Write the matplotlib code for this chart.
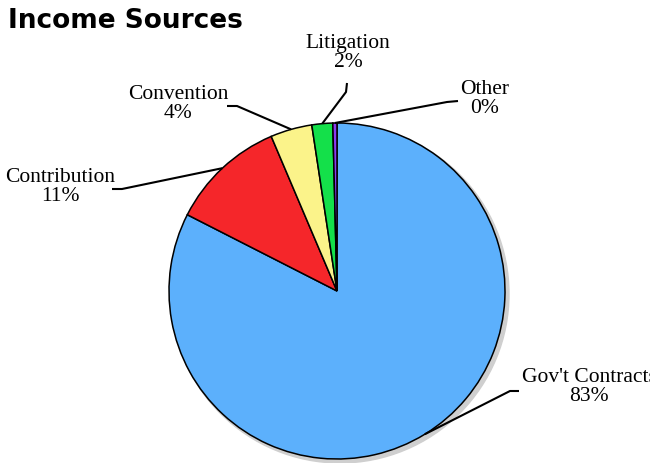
import matplotlib.pyplot as plt
from matplotlib.patches import Circle
import numpy as np

# slice data, clockwise from 12 o'clock
labels = ["Gov't Contracts", "Contribution", "Convention", "Litigation", "Other"]
shares = [82.5, 11.1, 4.0, 2.0, 0.4]
shown_pct = ["83%", "11%", "4%", "2%", "0%"]
colors = ['#5cb0fc', '#f5262a', '#fbf38a', '#14e04a', '#8b3af0']

W, H = 650, 464
fig = plt.figure(figsize=(W / 100, H / 100), dpi=100)
ax = fig.add_axes([0, 0, 1, 1])

cx, cy, r = 337, H - 292, 168

# drop shadow
ax.add_patch(Circle((cx + 3, cy - 3), r + 1, color='#cfcfcf', zorder=0))

wedges, _ = ax.pie(shares, colors=colors, center=(cx, cy), radius=r,
                   startangle=90, counterclock=False,
                   wedgeprops=dict(edgecolor='black', linewidth=1.1))
for w in wedges:
    w.set_zorder(1)

# pie() resets the limits, so set them afterwards
ax.set_xlim(0, W)
ax.set_ylim(0, H)
ax.set_aspect('equal')
ax.axis('off')

# label text centre, elbow point, line end (pixels from top-left)
label_pos = [(589, 387), (60, 187), (178, 104), (348, 53), (485, 99)]
elbow = [(510, 392), (122, 190), (237, 107), (346, 93), (447, 103)]
tail = [(519, 392), (112, 190), (227, 107), (347, 84), (458, 102)]

for w, name, pct, lp, el, tl in zip(wedges, labels, shown_pct, label_pos, elbow, tail):
    mid = np.deg2rad((w.theta1 + w.theta2) / 2)
    sx, sy = cx + r * np.cos(mid), cy + r * np.sin(mid)
    ax.plot([sx, el[0], tl[0]], [sy, H - el[1], H - tl[1]], color='black',
            lw=1.5, solid_capstyle='butt', zorder=2)
    ax.text(lp[0], H - lp[1], f"{name}\n{pct}", ha='center', va='center',
            family='Liberation Serif', fontsize=15.5, linespacing=1.0)

fig.text(8 / W, 1 - 28 / H, "Income Sources", fontsize=19, fontweight='bold',
         family='DejaVu Sans', va='baseline', ha='left')

fig.savefig('out.png', dpi=100)
